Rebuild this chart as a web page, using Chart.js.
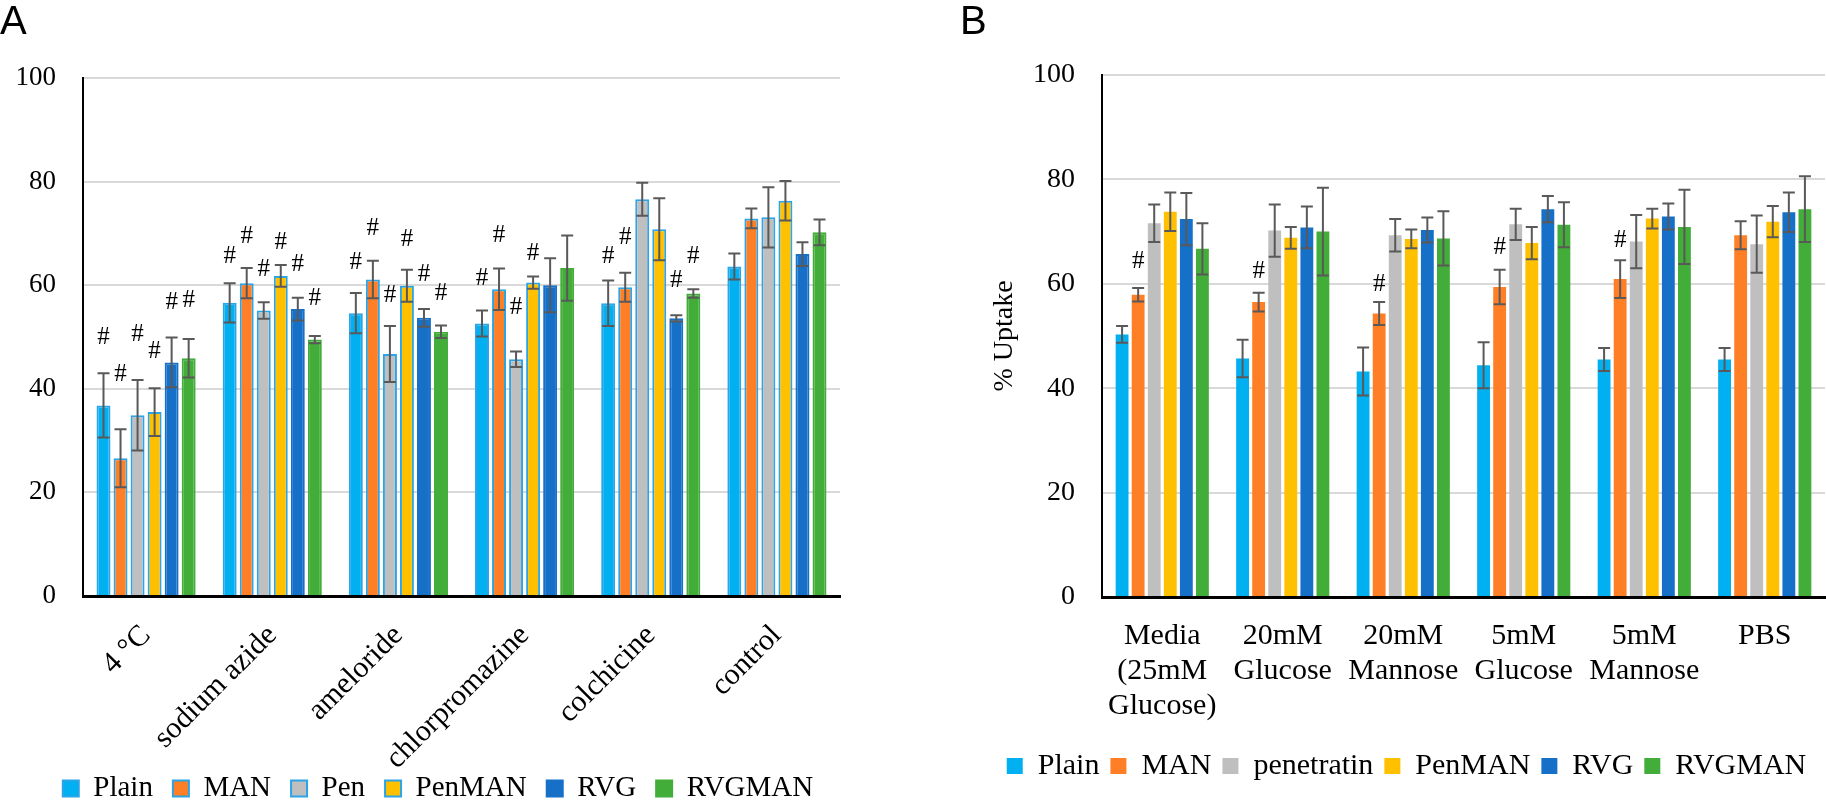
<!DOCTYPE html>
<html>
<head>
<meta charset="utf-8">
<script src="https://cdn.jsdelivr.net/npm/chart.js@4/dist/chart.umd.min.js"></script>
<style>
  html, body { margin: 0; padding: 0; background: #fff; overflow: hidden; width: 1826px; height: 801px; }
  .panel { position: absolute; top: 0; }
  .tag { position: absolute; font-family: "Liberation Sans", Arial, sans-serif; font-size: 40px; line-height: 1; color: #000; z-index: 2; }
</style>
</head>
<body>
<div class="panel" style="left:0"><canvas id="chartA" width="860" height="813"></canvas></div>
<div class="panel" style="left:940px"><canvas id="chartB" width="886" height="791"></canvas></div>
<div class="tag" style="left:0;top:0">A</div>
<div class="tag" style="left:960px;top:0">B</div>
<script>
// Painel A - inibidores de endocitose
const inhibitorLabels = ['4 °C', 'sodium azide', 'ameloride', 'chlorpromazine', 'colchicine', 'control'];
const namesA = ['Plain', 'MAN', 'Pen', 'PenMAN', 'RVG', 'RVGMAN'];

const plainA = [36.8, 56.6, 54.6, 52.6, 56.5, 63.6];
const manA = [26.6, 60.4, 61.1, 59.2, 59.6, 72.9];
const penA = [34.9, 55.1, 46.7, 45.7, 76.6, 73.1];
const penManA = [35.5, 61.8, 59.9, 60.5, 70.8, 76.3];
const rvgA = [45.1, 55.4, 53.7, 60.0, 53.6, 66.0];
const rvgManA = [45.9, 49.5, 51.0, 63.3, 58.4, 70.2];

const plainErrA = [6.2, 3.8, 3.9, 2.5, 4.4, 2.5];
const manErrA = [5.6, 2.9, 3.6, 4.0, 2.8, 1.9];
const penErrA = [6.8, 1.6, 5.4, 1.5, 3.2, 5.8];
const penManErrA = [4.6, 2.1, 3.1, 1.2, 6.0, 3.8];
const rvgErrA = [4.8, 2.2, 1.7, 5.2, 0.6, 2.3];
const rvgManErrA = [3.7, 0.7, 1.2, 6.3, 0.8, 2.5];

// altura (em %) de cada marca "#", null = sem marca
const plainHashA = [50.0, 65.5, 64.3, 61.4, 65.5, null];
const manHashA = [42.7, 69.5, 71.0, 69.7, 69.3, null];
const penHashA = [50.4, 63.1, 58.1, 55.8, null, null];
const penManHashA = [47.3, 68.3, 68.9, 66.2, null, null];
const rvgHashA = [56.6, 64.1, 62.0, null, 61.0, null];
const rvgManHashA = [57.0, 57.5, 58.5, null, 65.5, null];

// Painel B - competicao com acucares
const sugarLabels = [['Media', '(25mM', 'Glucose)'], ['20mM', 'Glucose'], ['20mM', 'Mannose'], ['5mM', 'Glucose'], ['5mM', 'Mannose'], 'PBS'];
const namesB = ['Plain', 'MAN', 'penetratin', 'PenMAN', 'RVG', 'RVGMAN'];

const plainB = [50.3, 45.7, 43.2, 44.4, 45.5, 45.5];
const manB = [57.9, 56.5, 54.3, 59.4, 60.9, 69.3];
const penB = [71.6, 70.2, 69.3, 71.4, 68.1, 67.6];
const penManB = [73.8, 68.8, 68.6, 67.8, 72.5, 71.9];
const rvgB = [72.4, 70.8, 70.3, 74.3, 72.9, 73.7];
const rvgManB = [66.7, 70.0, 68.7, 71.3, 70.9, 74.3];

const plainErrB = [1.6, 3.6, 4.6, 4.4, 2.2, 2.2];
const manErrB = [1.3, 1.8, 2.2, 3.3, 3.6, 2.7];
const penErrB = [3.6, 5.0, 3.1, 3.0, 5.1, 5.5];
const penManErrB = [3.7, 2.1, 1.8, 3.1, 1.9, 3.0];
const rvgErrB = [5.0, 4.0, 2.4, 2.5, 2.5, 3.8];
const rvgManErrB = [4.9, 8.4, 5.2, 4.3, 7.1, 6.3];

const manHashB = [64.2, 62.3, 59.8, 66.9, 68.4, null];

const yTicks = [0, 20, 40, 60, 80, 100];

const cores = ['#00b0f0', '#ff7f27', '#bfbfbf', '#ffc000', '#1770c8', '#43ad3a'];
const bordasA = ['#2ba4e8', '#2ba4e8', '#2ba4e8', '#2ba4e8', '#1770c8', '#43ad3a'];

Chart.defaults.font.family = '"Liberation Serif", "Times New Roman", serif';
Chart.defaults.color = '#000';

// barras de erro e marcas "#"
const barrasErro = {
    id: 'barrasErro',
    afterLayout(chart) {
        // desloca a legenda na horizontal (centro diferente da area do grafico)
        const d = chart.options.deslocLegenda || 0;
        chart.legend.left += d;
        chart.legend.right += d;
        // deixa os rotulos inclinados descerem ate o fim do canvas sem corte
        chart.scales.x.bottom = chart.height;
    },
    afterDatasetsDraw(chart) {
        const ctx = chart.ctx;
        const y = chart.scales.y;
        chart.data.datasets.forEach((ds, i) => {
            const meta = chart.getDatasetMeta(i);
            meta.data.forEach((bar, j) => {
                const v = ds.data[j];
                const e = ds.erros[j];
                const topo = y.getPixelForValue(v + e);
                const base = y.getPixelForValue(v - e);
                ctx.save();
                ctx.strokeStyle = '#595959';
                ctx.lineWidth = 2;
                ctx.beginPath();
                ctx.moveTo(bar.x, topo); ctx.lineTo(bar.x, base);
                ctx.moveTo(bar.x - 6, topo); ctx.lineTo(bar.x + 6, topo);
                ctx.moveTo(bar.x - 6, base); ctx.lineTo(bar.x + 6, base);
                ctx.stroke();
                if (ds.hashes && ds.hashes[j] != null) {
                    ctx.fillStyle = '#000';
                    ctx.font = '25px "Liberation Serif"';
                    ctx.textAlign = 'center';
                    ctx.textBaseline = 'middle';
                    ctx.fillText('#', bar.x, y.getPixelForValue(ds.hashes[j]));
                }
                ctx.restore();
            });
        });
    }
};

function criarPainel(id, cfg) {
    const datasets = cfg.nomes.map((nome, i) => ({
        label: nome,
        data: cfg.valores[i],
        erros: cfg.erros[i],
        hashes: cfg.hashes[i],
        backgroundColor: cores[i],
        borderColor: cfg.bordas ? cfg.bordas[i] : cores[i],
        borderWidth: cfg.bordas ? 2 : 0,
        borderSkipped: 'start',
        categoryPercentage: cfg.catPct,
        barPercentage: cfg.barPct
    }));

    return new Chart(document.getElementById(id), {
        type: 'bar',
        data: { labels: cfg.categorias, datasets: datasets },
        plugins: [barrasErro],
        options: {
            responsive: false,
            animation: false,
            events: [],
            deslocLegenda: cfg.deslocLegenda,
            layout: { padding: { left: cfg.padL, right: cfg.padR, top: cfg.padT, bottom: 0 } },
            scales: {
                x: {
                    grid: { display: false },
                    border: { color: '#000', width: 3 },
                    ticks: cfg.xTicks,
                    afterFit: s => { s.height = s.chart.height - s.chart.legend.height - cfg.fundo; }
                },
                y: {
                    min: 0,
                    max: 100,
                    afterBuildTicks: s => { s.ticks = yTicks.map(v => ({ value: v })); },
                    grid: {
                        drawTicks: false,
                        lineWidth: 2,
                        color: c => c.tick && c.tick.value === 0 ? 'rgba(0,0,0,0)' : '#d9d9d9'
                    },
                    border: { color: '#000', width: 2 },
                    ticks: { padding: 27, font: { size: cfg.yFont } },
                    title: cfg.yTitulo,
                    afterFit: s => { s.width = cfg.yLargura; }
                }
            },
            plugins: {
                tooltip: { enabled: false },
                legend: {
                    position: 'bottom',
                    labels: {
                        boxWidth: 16,
                        boxHeight: 16,
                        padding: cfg.legPad,
                        font: { size: cfg.legFont },
                        color: '#000'
                    }
                }
            }
        }
    });
}

criarPainel('chartA', {
    categorias: inhibitorLabels,
    nomes: namesA,
    valores: [plainA, manA, penA, penManA, rvgA, rvgManA],
    erros: [plainErrA, manErrA, penErrA, penManErrA, rvgErrA, rvgManErrA],
    hashes: [plainHashA, manHashA, penHashA, penManHashA, rvgHashA, rvgManHashA],
    bordas: bordasA,
    catPct: 0.81,
    barPct: 0.82,
    padL: 0, padR: 20, padT: 78,
    deslocLegenda: 18,
    fundo: 596,
    yLargura: 83,
    yFont: 27,
    yTitulo: { display: false },
    xTicks: { minRotation: 45, maxRotation: 45, autoSkip: false, padding: 14, labelOffset: 0, font: { size: 30 } },
    legPad: 20,
    legFont: 29
});

criarPainel('chartB', {
    categorias: sugarLabels,
    nomes: namesB,
    valores: [plainB, manB, penB, penManB, rvgB, rvgManB],
    erros: [plainErrB, manErrB, penErrB, penManErrB, rvgErrB, rvgManErrB],
    hashes: [null, manHashB, null, null, null, null],
    bordas: null,
    catPct: 0.8,
    barPct: 0.8,
    padL: 48, padR: 1, padT: 75,
    deslocLegenda: 0,
    fundo: 597,
    yLargura: 114,
    yFont: 28,
    yTitulo: { display: true, text: '% Uptake', font: { size: 28 }, padding: 0 },
    xTicks: { maxRotation: 0, minRotation: 0, autoSkip: false, padding: 14, font: { size: 30, lineHeight: 35 / 30 } },
    legPad: 11,
    legFont: 30
});
</script>
</body>
</html>
